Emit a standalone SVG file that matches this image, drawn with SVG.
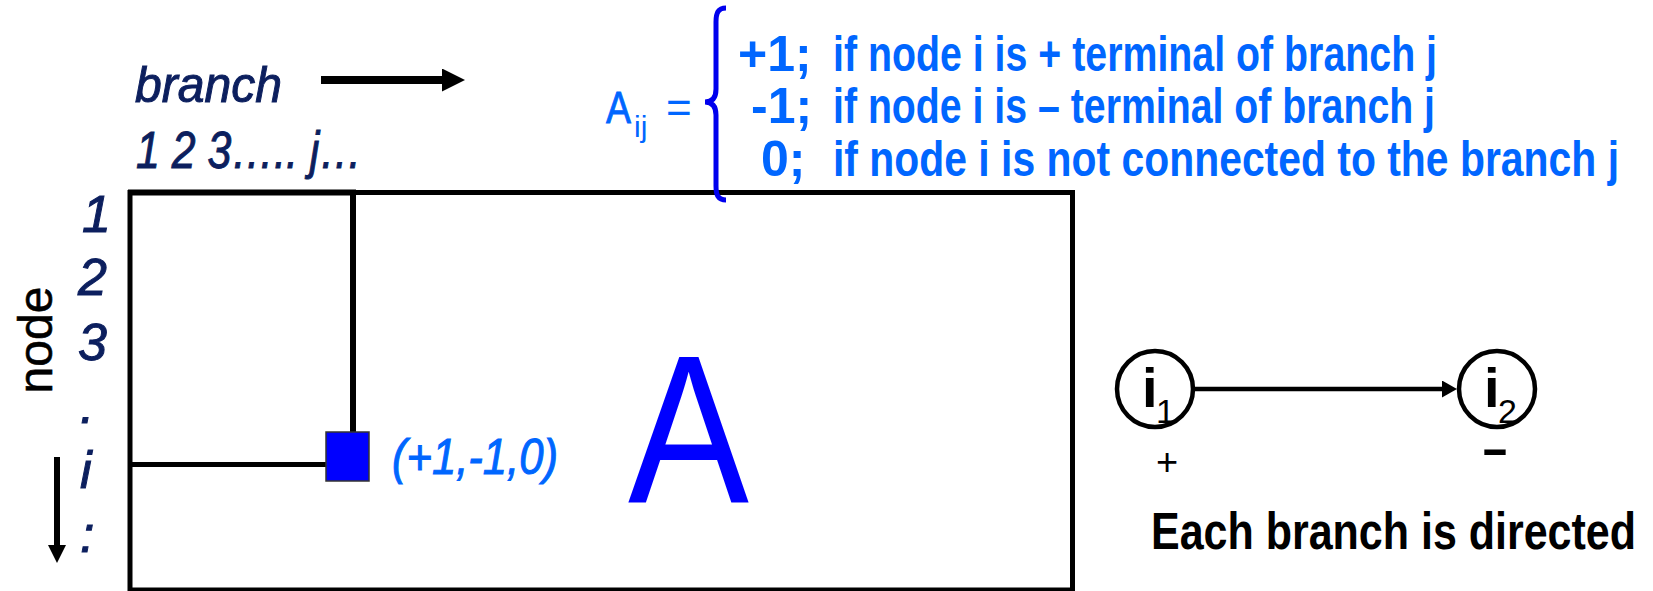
<svg xmlns="http://www.w3.org/2000/svg" width="1653" height="591" viewBox="0 0 1653 591">
<style>
.navy{fill:#0c1f5e;stroke:#0c1f5e;stroke-width:1;font-family:"Liberation Sans",Arial,sans-serif;font-style:italic}
.blue{fill:#0066ff;font-family:"Liberation Sans Narrow","Liberation Sans",Arial,sans-serif;font-weight:bold;font-size:50px}
.blk{fill:#000;font-family:"Liberation Sans Narrow","Liberation Sans",Arial,sans-serif;font-weight:bold}
.ln{stroke:#000;fill:none}
</style>
<defs>
<marker id="hBig" markerUnits="userSpaceOnUse" markerWidth="24" markerHeight="24" refX="0" refY="11.5" orient="auto"><path d="M0,0 L23,11.5 L0,23 Z" fill="#000"/></marker>
<marker id="hDown" markerUnits="userSpaceOnUse" markerWidth="19" markerHeight="19" refX="0" refY="9" orient="auto"><path d="M0,0 L18,9 L0,18 Z" fill="#000"/></marker>
<marker id="hSmall" markerUnits="userSpaceOnUse" markerWidth="16" markerHeight="18" refX="0" refY="8.5" orient="auto"><path d="M0,0 L15,8.5 L0,17 Z" fill="#000"/></marker>
</defs>
<rect width="1653" height="591" fill="#fff"/>

<g id="labels-branch">
<text class="navy" x="135" y="102" font-size="50" textLength="147" lengthAdjust="spacingAndGlyphs">branch</text>
<text class="navy" x="136" y="168" font-size="52" textLength="226" lengthAdjust="spacingAndGlyphs">1 2 3….. j…</text>
</g>

<g id="labels-node">
<text style="font-family:'Liberation Sans',Arial,sans-serif" fill="#000" stroke="#000" stroke-width="0.6" font-size="48" transform="translate(52,340) rotate(-90)" text-anchor="middle">node</text>
<text class="navy" x="82" y="232" font-size="52">1</text>
<text class="navy" x="78" y="295" font-size="52">2</text>
<text class="navy" x="78" y="360" font-size="52">3</text>
<text class="navy" x="80" y="423" font-size="52">.</text>
<text class="navy" x="80" y="488" font-size="52">i</text>
<text class="navy" x="80" y="552" font-size="52">:</text>
</g>

<g id="matrix">
<rect x="130" y="192.5" width="942.5" height="397.5" fill="#fff" stroke="#000" stroke-width="5"/>
<line x1="128" y1="192.5" x2="356" y2="192.5" stroke="#000" stroke-width="6"/>
<text x="628" y="503" font-size="211" fill="#0000ff" font-family="Liberation Sans Narrow, Liberation Sans, Arial, sans-serif" textLength="121" lengthAdjust="spacingAndGlyphs">A</text>
</g>

<g id="connectors">
<line class="ln" x1="353" y1="192" x2="353" y2="432" stroke-width="6"/>
<line class="ln" x1="130" y1="464.5" x2="326" y2="464.5" stroke-width="5"/>
<line class="ln" x1="321" y1="80" x2="442" y2="80" stroke-width="8" marker-end="url(#hBig)"/>
<line class="ln" x1="57" y1="457" x2="57" y2="545" stroke-width="6" marker-end="url(#hDown)"/>
<line class="ln" x1="1193" y1="389" x2="1442" y2="389" stroke-width="4.5" marker-end="url(#hSmall)"/>
</g>

<g id="entry">
<rect x="326" y="432" width="43" height="49" fill="#0000ff" stroke="#333" stroke-width="1.5"/>
<text x="392" y="474" font-size="50" fill="#0066ff" stroke="#0066ff" stroke-width="1" font-family="Liberation Sans, Arial, sans-serif" font-style="italic" textLength="166" lengthAdjust="spacingAndGlyphs">(+1,-1,0)</text>
</g>

<g id="definition">
<text x="606" y="123" class="blue" style="font-size:44px;font-weight:normal;stroke:#0066ff;stroke-width:0.8" textLength="25" lengthAdjust="spacingAndGlyphs">A</text>
<text x="634" y="137" class="blue" style="font-size:30px;font-weight:normal">ij</text>
<text x="666" y="123" class="blue" style="font-size:44px;font-weight:normal">=</text>
<path d="M726,8 C718,8 716,13 716,22 L716,89 C716,97 713,102 705,102 C713,102 716,107 716,115 L716,186 C716,195 718,200 726,200" fill="none" stroke="#0000ee" stroke-width="5"/>
<text x="738" y="71" class="blue">+1;</text>
<text x="833" y="71" class="blue" textLength="604" lengthAdjust="spacingAndGlyphs">if node i is + terminal of branch j</text>
<text x="751" y="123" class="blue">-1;</text>
<text x="833" y="123" class="blue" textLength="602" lengthAdjust="spacingAndGlyphs">if node i is – terminal of branch j</text>
<text x="761" y="176" class="blue">0;</text>
<text x="833" y="176" class="blue" textLength="786" lengthAdjust="spacingAndGlyphs">if node i is not connected to the branch j</text>
</g>

<g id="node-i1">
<circle cx="1155" cy="389" r="38" fill="#fff" stroke="#000" stroke-width="4.5"/>
<text x="1142" y="407" class="blk" font-size="56">i</text>
<text x="1156" y="423" class="blk" font-size="34" style="font-weight:normal">1</text>
<text x="1167" y="475" font-size="38" text-anchor="middle" fill="#000" font-family="Liberation Sans, Arial, sans-serif">+</text>
</g>

<g id="node-i2">
<circle cx="1497" cy="389" r="38" fill="#fff" stroke="#000" stroke-width="4.5"/>
<text x="1484" y="407" class="blk" font-size="56">i</text>
<text x="1498" y="423" class="blk" font-size="34" style="font-weight:normal">2</text>
<text x="1495" y="467" font-size="56" text-anchor="middle" fill="#000" font-weight="bold" font-family="Liberation Sans, Arial, sans-serif" textLength="24" lengthAdjust="spacingAndGlyphs">–</text>
</g>

<g id="caption">
<text x="1151" y="549" class="blk" font-size="52" textLength="485" lengthAdjust="spacingAndGlyphs">Each branch is directed</text>
</g>
</svg>
